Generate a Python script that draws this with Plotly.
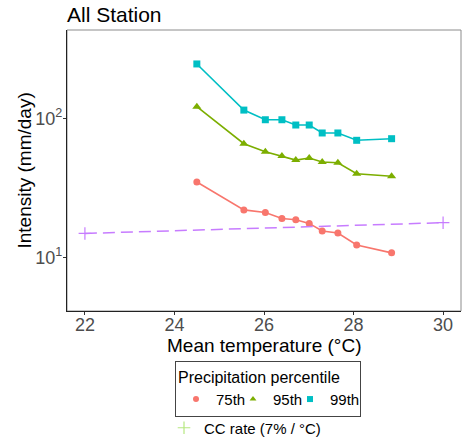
import plotly.graph_objects as go

# ---- data ----
temp = [24.50, 25.55, 26.03, 26.40, 26.71, 27.01, 27.30, 27.65, 28.07, 28.85]
p75 = [34.9, 22.0, 21.1, 19.1, 18.7, 17.6, 15.5, 15.0, 12.3, 10.8]
p95 = [121.6, 65.9, 57.7, 53.7, 50.2, 52.0, 48.6, 48.1, 40.1, 38.4]
p99 = [247, 115, 98, 98, 89.8, 89.8, 78.7, 78.7, 69.7, 71.6]
cc_temp = [22, 30]
cc_rate = [14.9, 17.8]

x_ticks = [22, 24, 26, 28, 30]
x_minor = [22, 23, 24, 25, 26, 27, 28, 29, 30]
y_major = [10, 100]
y_major_text = ["10<sup>1</sup>", "10<sup>2</sup>"]
y_long = [5, 10, 50, 100]
y_short = [6, 7, 8, 9, 20, 30, 40, 60, 70, 80, 90, 200, 300, 400]

FONT = "Liberation Sans, Arial, sans-serif"
XR = [21.6, 30.4]
YR = [0.615, 2.637]
W, H = 465, 441
L, R, T, B = 67, 4, 30, 130
PW, PH = W - L - R, H - T - B

series = [
    ("75th", p75, "#F8766D", "circle", 7),
    ("95th", p95, "#7CAE00", "triangle-up", 8),
    ("99th", p99, "#00BFC4", "square", 7),
]

fig = go.Figure()
for name, vals, col, sym, sz in series:
    fig.add_trace(go.Scatter(x=temp, y=vals, mode="lines+markers", name=name,
                             line=dict(color=col, width=1.6),
                             marker=dict(symbol=sym, size=sz, color=col),
                             showlegend=False))
fig.add_trace(go.Scatter(x=cc_temp, y=cc_rate, mode="lines+markers",
                         name="CC rate (7% / °C)",
                         line=dict(color="#C77CFF", width=1.5, dash="12px,6px"),
                         marker=dict(symbol="cross-thin-open", size=9,
                                     line=dict(color="#C77CFF", width=1.2)),
                         showlegend=False))

# legend keys (compact, like the reference's small keys)
for name, vals, col, sym, sz in series:
    fig.add_trace(go.Scatter(x=[None], y=[None], mode="markers", name=name,
                             marker=dict(symbol=sym, size=6, color=col),
                             legend="legend"))
fig.add_trace(go.Scatter(x=[None], y=[None], mode="markers",
                         name="CC rate (7% / °C)",
                         marker=dict(symbol="cross-thin-open", size=9,
                                     line=dict(color="#C77CFF", width=1.2)),
                         legend="legend2"))

fig.update_layout(
    width=W, height=H,
    margin=dict(l=L, r=R, t=T, b=B),
    paper_bgcolor="white", plot_bgcolor="white",
    font=dict(family=FONT, color="black"),
    title=dict(text="All Station", x=0, xref="paper", xanchor="left",
               y=1 - 15 / H, yref="container", yanchor="middle",
               font=dict(size=21, color="black", family=FONT)),
    xaxis=dict(range=XR, tickvals=x_ticks, ticks="outside", ticklen=3,
               tickcolor="#333333", showline=True, linecolor="#222222",
               linewidth=1.2, showgrid=False, zeroline=False,
               ticklabelstandoff=-6,
               tickfont=dict(size=18, color="#4D4D4D")),
    xaxis2=dict(range=XR, overlaying="x", side="top", tickvals=x_minor,
                ticks="inside", ticklen=4, tickcolor="#777777",
                showticklabels=False, showgrid=False, zeroline=False,
                showline=False),
    yaxis=dict(type="log", range=YR, tickvals=y_major, ticktext=y_major_text,
               ticks="outside", ticklen=3, tickcolor="#333333",
               showline=True, linecolor="#222222", linewidth=1.2,
               showgrid=False, zeroline=False, ticklabelstandoff=-3,
               tickfont=dict(size=18, color="#4D4D4D")),
    yaxis2=dict(type="log", range=YR, overlaying="y", tickvals=y_long,
                ticks="inside", ticklen=6, tickcolor="#555555", mirror="ticks",
                showticklabels=False, showgrid=False, zeroline=False,
                showline=False),
    yaxis3=dict(type="log", range=YR, overlaying="y", tickvals=y_short,
                ticks="inside", ticklen=3.5, tickcolor="#555555", mirror="ticks",
                showticklabels=False, showgrid=False, zeroline=False,
                showline=False),
    shapes=[dict(type="rect", xref="paper", yref="paper", x0=0, x1=1, y0=0, y1=1,
                 line=dict(color="#8C8C8C", width=1), layer="below")],
    annotations=[
        dict(text="Mean temperature (°C)", xref="paper", yref="paper",
             x=0.5, xanchor="center", y=(H - B - 345) / PH, yanchor="middle",
             showarrow=False, font=dict(size=19, color="black")),
        dict(text="Intensity (mm/day)", xref="paper", yref="paper",
             x=(24 - L) / PW, xanchor="center", y=0.5, yanchor="middle",
             textangle=-90, showarrow=False, font=dict(size=19, color="black")),
    ],
    legend=dict(orientation="h", xref="container", yref="container",
                x=175 / W, xanchor="left", y=1 - 361 / H, yanchor="top",
                bordercolor="#444444", borderwidth=1, itemwidth=30,
                entrywidth=12,
                title=dict(text="Precipitation percentile&nbsp;&nbsp;&nbsp;&nbsp;",
                           side="top", font=dict(size=16, color="black")),
                font=dict(size=15, color="black"), bgcolor="white"),
    legend2=dict(orientation="h", xref="container", yref="container",
                 x=164 / W, xanchor="left", y=1 - 428 / H, yanchor="middle",
                 itemwidth=30, borderwidth=0,
                 font=dict(size=15, color="black"),
                 bgcolor="rgba(0,0,0,0)"),
)

fig.write_html("out.html")
